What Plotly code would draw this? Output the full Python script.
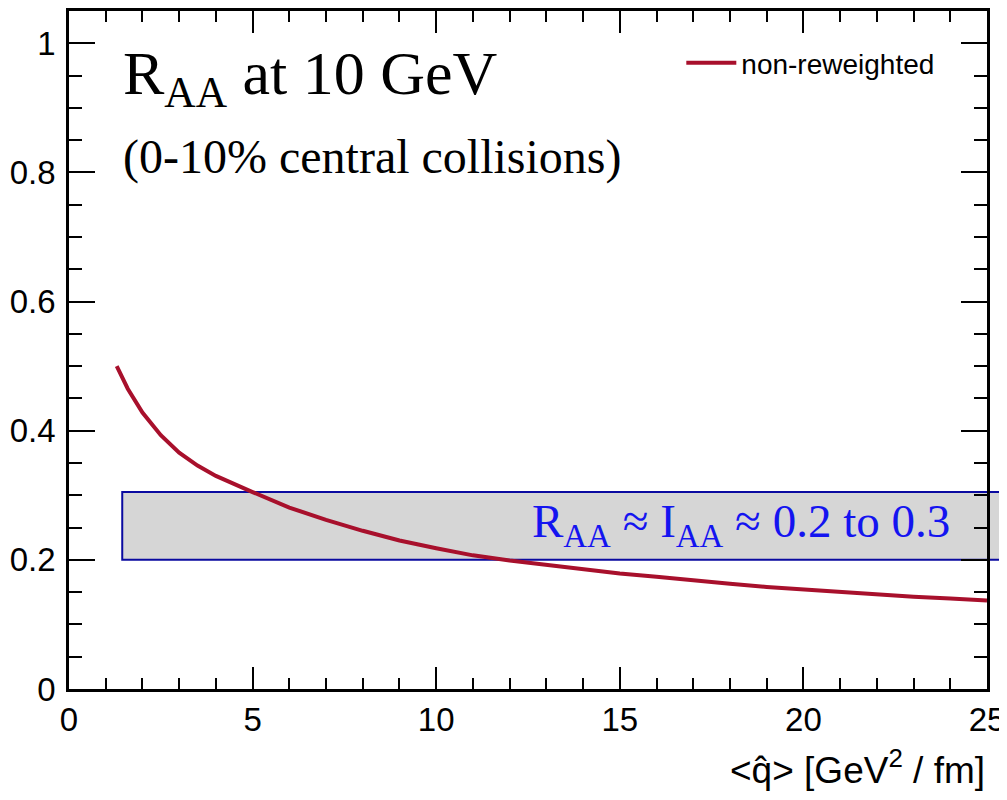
import plotly.graph_objects as go

# ---- data ----
qhat = [1.3, 1.6, 2.0, 2.5, 3.0, 3.5, 4.0, 4.5, 5.0, 6.0, 7.0, 8.0, 9.0, 10.0,
        11.0, 12.0, 13.0, 14.0, 15.0, 16.0, 17.0, 18.0, 19.0, 20.0, 21.0,
        22.0, 23.0, 24.0, 25.0]
raa = [0.500, 0.465, 0.428, 0.393, 0.366, 0.346, 0.330, 0.317, 0.305, 0.281,
       0.262, 0.245, 0.230, 0.218, 0.207, 0.199, 0.192, 0.185, 0.179, 0.174,
       0.168, 0.163, 0.158, 0.154, 0.150, 0.147, 0.143, 0.140, 0.137]
series_name = "non-reweighted"

band_x_start = 1.45          # band starts here (data x) and runs off the right edge
band_y = [0.2, 0.305]        # R_AA ~ I_AA band
band_label = "R<sub>AA</sub> ≈ I<sub>AA</sub> ≈ 0.2 to 0.3"

x_range = [0, 25]
y_range = [0, 1.05]
x_ticks = [0, 5, 10, 15, 20, 25]
y_ticks = [0, 0.2, 0.4, 0.6, 0.8, 1]
y_ticktext = ["0", "0.2", "0.4", "0.6", "0.8", "1"]

title1 = "R<sub>AA</sub> at 10 GeV"
title2 = "(0-10% central collisions)"
x_title = "&lt;q\u0302&gt; [GeV<sup>2</sup> / fm]"

# the page body has an 8 px margin, so the figure is sized to fit the window
W, H = 999, 784
ML, MR, MT, MB = 61, 20, 3, 103

fig = go.Figure()
fig.add_trace(go.Scatter(x=qhat, y=raa, mode="lines", name=series_name,
                         line=dict(color="#a8102c", width=4)))

# band (x start converted from data to paper so it can run past the plot edge)
plot_w = W - ML - MR
bx0 = (band_x_start - x_range[0]) / (x_range[1] - x_range[0])
bx1 = 1 + (MR + 5) / plot_w
fig.add_shape(type="rect", xref="paper", yref="y", x0=bx0, x1=bx1,
              y0=band_y[0], y1=band_y[1], fillcolor="#d6d6d6",
              line=dict(color="#0a0aa0", width=2), layer="below")

fig.add_annotation(x=18.3, y=0.254, xref="x", yref="y",
                   text=band_label, showarrow=False,
                   font=dict(family="Liberation Serif, Times New Roman, serif",
                             size=47, color="#1414f0"),
                   xanchor="center", yanchor="middle")

fig.add_annotation(x=0.057, y=0.962, xref="paper", yref="paper", text=title1,
                   showarrow=False, xanchor="left", yanchor="top",
                   font=dict(family="Liberation Serif, Times New Roman, serif",
                             size=62, color="black"))
fig.add_annotation(x=0.057, y=0.828, xref="paper", yref="paper", text=title2,
                   showarrow=False, xanchor="left", yanchor="top",
                   font=dict(family="Liberation Serif, Times New Roman, serif",
                             size=48, color="black"))

fig.add_annotation(x=1.0, y=-0.1165, xref="paper", yref="paper", text=x_title,
                   showarrow=False, xanchor="right", yanchor="middle",
                   font=dict(family="Liberation Sans, Arial, sans-serif",
                             size=37, color="black"))

tickfont = dict(family="Liberation Sans, Arial, sans-serif",
                size=33, color="black")

fig.update_xaxes(range=x_range, tickvals=x_ticks, ticks="inside", ticklen=22,
                 tickwidth=2, tickcolor="black", showline=True, linecolor="black",
                 linewidth=2.5, mirror="ticks", showgrid=False, zeroline=False,
                 tickfont=tickfont, ticklabelstandoff=0, automargin=False,
                 minor=dict(dtick=1, ticks="inside", ticklen=11, tickwidth=2,
                            tickcolor="black", showgrid=False))
fig.update_yaxes(range=y_range, tickvals=y_ticks, ticktext=y_ticktext,
                 ticks="inside", ticklen=26, tickwidth=2, tickcolor="black",
                 showline=True, linecolor="black", linewidth=2.5, mirror="ticks",
                 showgrid=False, zeroline=False, tickfont=tickfont,
                 ticklabelstandoff=4, automargin=False,
                 minor=dict(dtick=0.05, ticks="inside", ticklen=13, tickwidth=2,
                            tickcolor="black", showgrid=False))

fig.update_layout(
    width=W, height=H,
    margin=dict(l=ML, r=MR, t=MT, b=MB, autoexpand=False),
    paper_bgcolor="white", plot_bgcolor="white",
    showlegend=True,
    legend=dict(x=0.667, y=0.960, xanchor="left", yanchor="top",
                itemwidth=50,
                bgcolor="rgba(0,0,0,0)", borderwidth=0,
                font=dict(family="Liberation Sans, Arial, sans-serif", size=28,
                          color="black")),
)

fig.write_html("out.html")
